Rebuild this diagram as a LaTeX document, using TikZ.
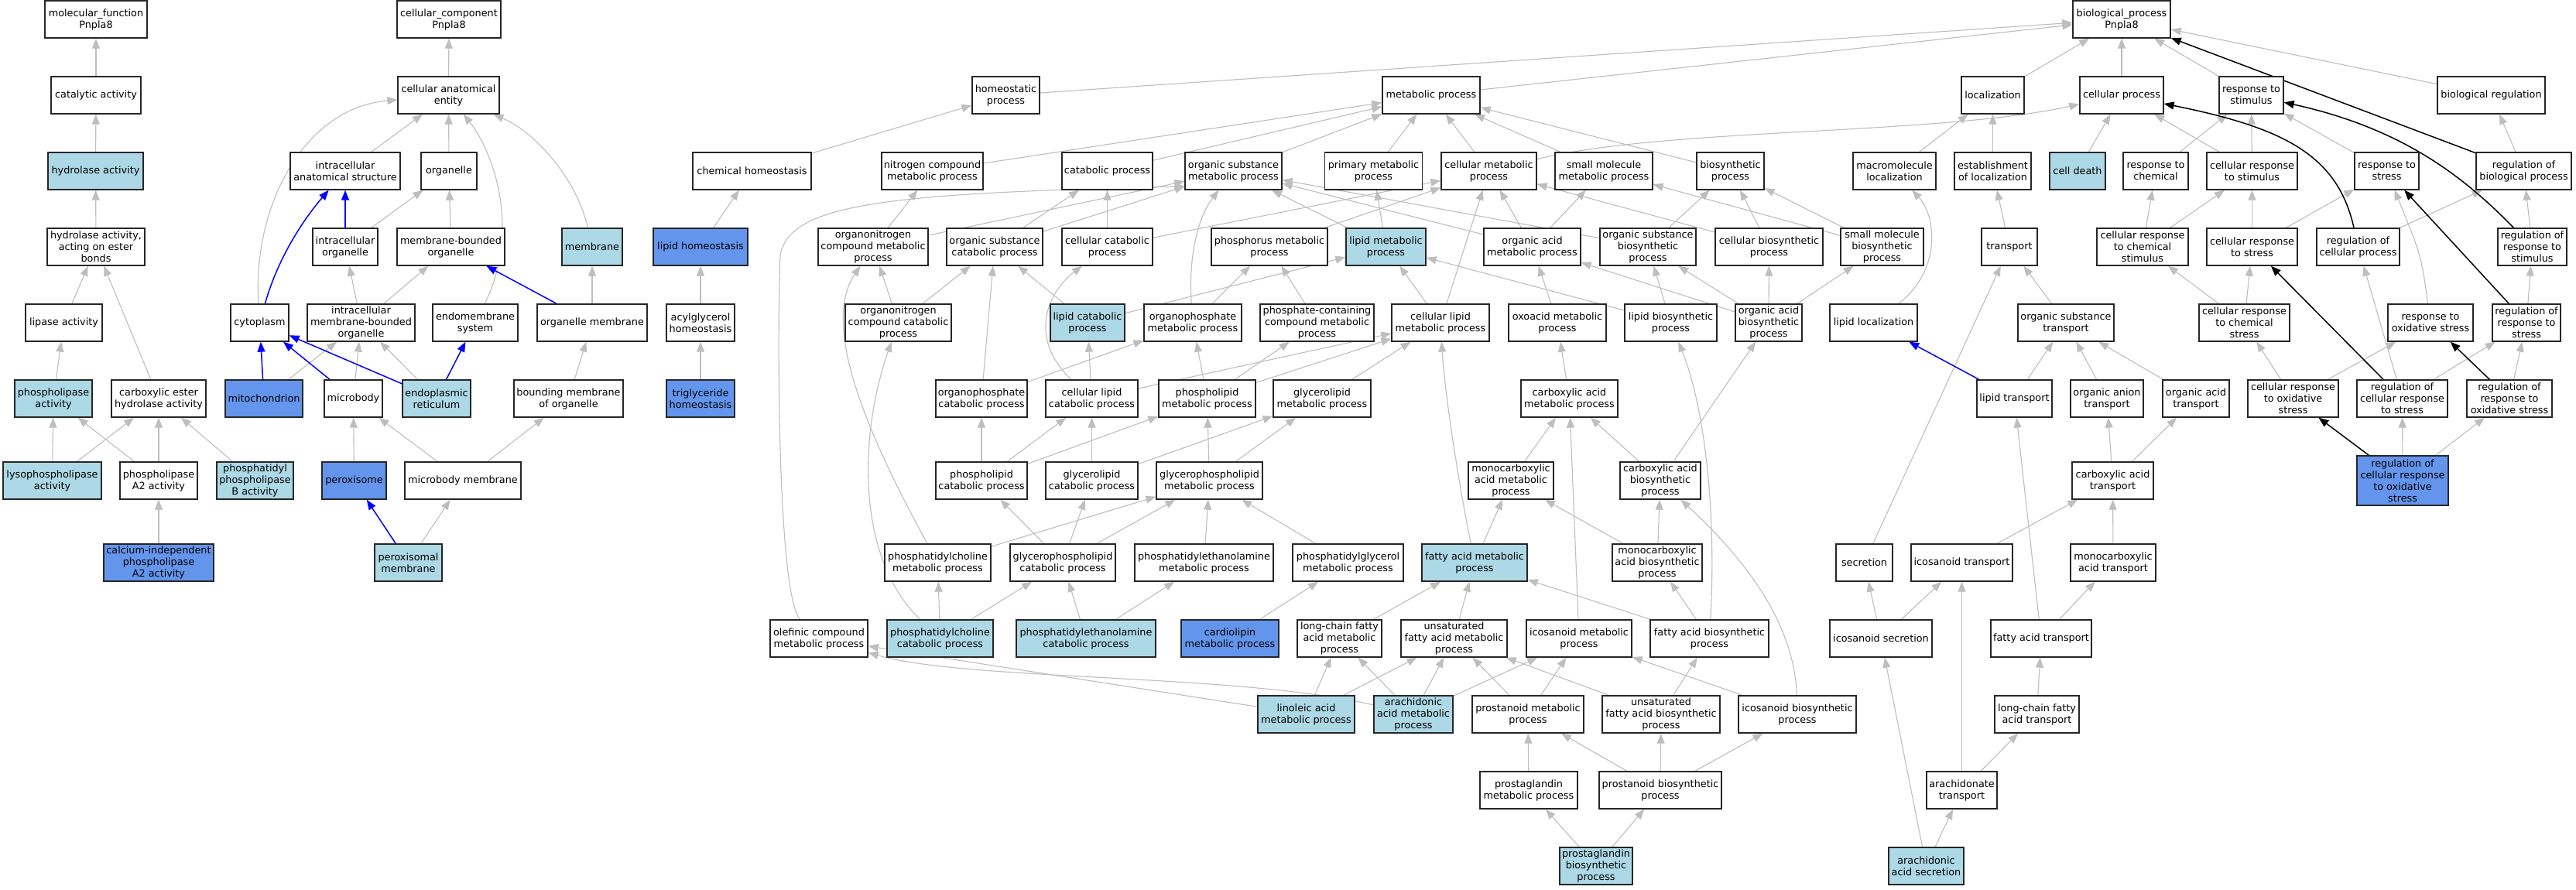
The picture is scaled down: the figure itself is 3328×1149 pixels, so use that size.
\documentclass[tikz,border=0pt]{standalone}
\usepackage{fontspec}
\setmainfont{DejaVu Sans}
\usetikzlibrary{arrows.meta}
\definecolor{lb}{HTML}{ADD8E6}
\definecolor{cb}{HTML}{6495ED}
\definecolor{edgegray}{HTML}{BEBEBE}
\pgfdeclarelayer{back}
\pgfdeclarelayer{edges}
\pgfsetlayers{back,edges,main}
\newcommand\GN[6]{\node[box,fill=#5,minimum width=#4pt] (#1) at (#2,#3) {#6};}
\begin{document}
\begin{tikzpicture}[x=1pt,y=-1pt,
  box/.style={draw=black!85,line width=1.3pt,minimum height=48pt,inner sep=2pt,align=center,
    font=\fontsize{12.8pt}{15pt}\selectfont},
  ge/.style={draw=edgegray,line width=1.1pt,-{Triangle[length=13pt,width=10pt]}},
  eb/.style={draw=blue,line width=1.5pt,-{Triangle[length=13pt,width=10pt]}},
  ek/.style={draw=black,line width=1.5pt,-{Triangle[length=13pt,width=10pt]}}]
\begin{pgfonlayer}{back}
\fill[white] (0,0) rectangle (3328,1149);
\end{pgfonlayer}
\useasboundingbox (0,0) rectangle (3328,1149);
% ---------- molecular function ----------
\GN{mf}{124}{25}{132}{white}{molecular\_function\\Pnpla8}
\GN{cat}{124}{123}{116}{white}{catalytic activity}
\GN{hyd}{123.5}{221}{123}{lb}{hydrolase activity}
\GN{hydest}{124}{319}{126}{white}{hydrolase activity,\\acting on ester\\bonds}
\GN{lipase}{82.5}{417}{99}{white}{lipase activity}
\GN{phlase}{69}{515}{100}{lb}{phospholipase\\activity}
\GN{cest}{205}{515}{122}{white}{carboxylic ester\\hydrolase activity}
\GN{lyso}{67.5}{621}{127}{lb}{lysophospholipase\\activity}
\GN{pla2}{205}{621}{100}{white}{phospholipase\\A2 activity}
\GN{plb}{329.5}{621}{99}{lb}{phosphatidyl\\phospholipase\\B activity}
\GN{capla2}{205}{727}{142}{cb}{calcium-independent\\phospholipase\\A2 activity}
% ---------- cellular component ----------
\GN{cc}{580}{25}{134}{white}{cellular\_component\\Pnpla8}
\GN{cae}{579.5}{123}{131}{white}{cellular anatomical\\entity}
\GN{ias}{446}{221}{142}{white}{intracellular\\anatomical structure}
\GN{org}{580}{221}{72}{white}{organelle}
\GN{io}{446}{319}{84}{white}{intracellular\\organelle}
\GN{mbo}{582.5}{319}{139}{white}{membrane-bounded\\organelle}
\GN{mem}{765}{319}{78}{lb}{membrane}
\GN{cyto}{335.5}{417}{75}{white}{cytoplasm}
\GN{imbo}{466.5}{417}{139}{white}{intracellular\\membrane-bounded\\organelle}
\GN{endo}{614}{417}{110}{white}{endomembrane\\system}
\GN{orgmem}{765}{417}{142}{white}{organelle membrane}
\GN{mito}{341}{515}{100}{cb}{mitochondrion}
\GN{microbody}{456.5}{515}{75}{white}{microbody}
\GN{er}{564}{515}{88}{lb}{endoplasmic\\reticulum}
\GN{bmo}{734.5}{515}{141}{white}{bounding membrane\\of organelle}
\GN{perox}{457.5}{621}{83}{cb}{peroxisome}
\GN{mbmem}{598}{621}{150}{white}{microbody membrane}
\GN{pxmem}{527.5}{727}{87}{lb}{peroxisomal\\membrane}
% ---------- biological process ----------
\GN{bp}{2741}{25}{126}{white}{biological\_process\\Pnpla8}
\GN{homeo}{1299.5}{123}{87}{white}{homeostatic\\process}
\GN{metab}{1849}{123}{126}{white}{metabolic process}
\GN{loc}{2574.5}{123}{81}{white}{localization}
\GN{cellproc}{2741}{123}{108}{white}{cellular process}
\GN{respstim}{2908.5}{123}{83}{white}{response to\\stimulus}
\GN{bioreg}{3218.5}{123}{139}{white}{biological regulation}
% r2
\GN{chemhomeo}{971.5}{221}{153}{white}{chemical homeostasis}
\GN{ncmp}{1204.5}{221}{131}{white}{nitrogen compound\\metabolic process}
\GN{catab}{1430.5}{221}{117}{white}{catabolic process}
\GN{osmp}{1593.5}{221}{125}{white}{organic substance\\metabolic process}
\GN{primp}{1774.5}{221}{126}{white}{primary metabolic\\process}
\GN{cellmp}{1923.5}{221}{123}{white}{cellular metabolic\\process}
\GN{smmp}{2072}{221}{126}{white}{small molecule\\metabolic process}
\GN{biosyn}{2235.5}{221}{87}{white}{biosynthetic\\process}
\GN{macroloc}{2447.5}{221}{107}{white}{macromolecule\\localization}
\GN{estloc}{2574.5}{221}{99}{white}{establishment\\of localization}
\GN{celldeath}{2684}{221}{72}{lb}{cell death}
\GN{respchem}{2785}{221}{84}{white}{response to\\chemical}
\GN{crstim}{2909.5}{221}{117}{white}{cellular response\\to stimulus}
\GN{respstress}{3083.5}{221}{83}{white}{response to\\stress}
\GN{regbp}{3260.5}{221}{123}{white}{regulation of\\biological process}
% r3
\GN{lipidhomeo}{905}{319}{122}{cb}{lipid homeostasis}
\GN{oncmp}{1128}{319}{142}{white}{organonitrogen\\compound metabolic\\process}
\GN{oscp}{1285}{319}{124}{white}{organic substance\\catabolic process}
\GN{cellcat}{1430.5}{319}{117}{white}{cellular catabolic\\process}
\GN{phosmp}{1640}{319}{150}{white}{phosphorus metabolic\\process}
\GN{lipidmp}{1790.5}{319}{103}{lb}{lipid metabolic\\process}
\GN{oamp}{1979.5}{319}{125}{white}{organic acid\\metabolic process}
\GN{osbp}{2129}{319}{124}{white}{organic substance\\biosynthetic\\process}
\GN{cbp}{2285.5}{319}{139}{white}{cellular biosynthetic\\process}
\GN{smbp}{2431.5}{319}{107}{white}{small molecule\\biosynthetic\\process}
\GN{transport}{2596}{319}{72}{white}{transport}
\GN{crchem}{2768}{319}{118}{white}{cellular response\\to chemical\\stimulus}
\GN{crstress}{2909.5}{319}{117}{white}{cellular response\\to stress}
\GN{regcp}{3046.5}{319}{107}{white}{regulation of\\cellular process}
\GN{regrstim}{3271.5}{319}{89}{white}{regulation of\\response to\\stimulus}
% r4
\GN{acylhomeo}{905}{417}{88}{white}{acylglycerol\\homeostasis}
\GN{onccp}{1160.5}{417}{137}{white}{organonitrogen\\compound catabolic\\process}
\GN{lipidcat}{1405}{417}{96}{lb}{lipid catabolic\\process}
\GN{opmp}{1541}{417}{126}{white}{organophosphate\\metabolic process}
\GN{pccmp}{1701.5}{417}{147}{white}{phosphate-containing\\compound metabolic\\process}
\GN{clmp}{1861}{417}{126}{white}{cellular lipid\\metabolic process}
\GN{oxoamp}{2012}{417}{126}{white}{oxoacid metabolic\\process}
\GN{lipidbp}{2158.5}{417}{119}{white}{lipid biosynthetic\\process}
\GN{oabp}{2285}{417}{86}{white}{organic acid\\biosynthetic\\process}
\GN{lipidloc}{2420.5}{417}{113}{white}{lipid localization}
\GN{ostrans}{2669}{417}{124}{white}{organic substance\\transport}
\GN{crchemstress}{2899.5}{417}{117}{white}{cellular response\\to chemical\\stress}
\GN{roxstress}{3140}{417}{110}{white}{response to\\oxidative stress}
\GN{regrstress}{3264}{417}{88}{white}{regulation of\\response to\\stress}
% r5
\GN{trighomeo}{905}{515}{88}{cb}{triglyceride\\homeostasis}
\GN{opcp}{1268}{515}{118}{white}{organophosphate\\catabolic process}
\GN{clcp}{1410.5}{515}{119}{white}{cellular lipid\\catabolic process}
\GN{plmp}{1559.5}{515}{125}{white}{phospholipid\\metabolic process}
\GN{glmp}{1708}{515}{126}{white}{glycerolipid\\metabolic process}
\GN{camp}{2027.5}{515}{125}{white}{carboxylic acid\\metabolic process}
\GN{liptrans}{2602.5}{515}{97}{white}{lipid transport}
\GN{oantrans}{2722}{515}{94}{white}{organic anion\\transport}
\GN{oactrans}{2837}{515}{86}{white}{organic acid\\transport}
\GN{croxstress}{2962.5}{515}{117}{white}{cellular response\\to oxidative\\stress}
\GN{regcrstress}{3103.5}{515}{117}{white}{regulation of\\cellular response\\to stress}
\GN{regroxstress}{3242}{515}{110}{white}{regulation of\\response to\\oxidative stress}
% r6
\GN{plcp}{1268}{621}{118}{white}{phospholipid\\catabolic process}
\GN{glcp}{1410.5}{621}{119}{white}{glycerolipid\\catabolic process}
\GN{gplmp}{1562.5}{621}{137}{white}{glycerophospholipid\\metabolic process}
\GN{mcamp}{1952}{621}{110}{white}{monocarboxylic\\acid metabolic\\process}
\GN{cabp}{2145}{621}{104}{white}{carboxylic acid\\biosynthetic\\process}
\GN{catrans}{2729.5}{621}{105}{white}{carboxylic acid\\transport}
\node[box,fill=cb,minimum width=118pt,minimum height=64pt] (regcroxs) at (3104,621) {regulation of\\cellular response\\to oxidative\\stress};
% r7
\GN{pcmp}{1211.5}{727}{137}{white}{phosphatidylcholine\\metabolic process}
\GN{gplcp}{1373}{727}{136}{white}{glycerophospholipid\\catabolic process}
\GN{pemp}{1555.5}{727}{179}{white}{phosphatidylethanolamine\\metabolic process}
\GN{pgmp}{1741.5}{727}{143}{white}{phosphatidylglycerol\\metabolic process}
\GN{famp}{1905}{727}{136}{lb}{fatty acid metabolic\\process}
\GN{mcabp}{2141}{727}{116}{white}{monocarboxylic\\acid biosynthetic\\process}
\GN{secretion}{2408.5}{727}{73}{white}{secretion}
\GN{icotrans}{2534.5}{727}{131}{white}{icosanoid transport}
\GN{mcatrans}{2730}{727}{110}{white}{monocarboxylic\\acid transport}
% r8
\GN{olefinic}{1058}{825}{126}{white}{olefinic compound\\metabolic process}
\GN{pccp}{1214.5}{825}{137}{lb}{phosphatidylcholine\\catabolic process}
\GN{pecp}{1403}{825}{180}{lb}{phosphatidylethanolamine\\catabolic process}
\GN{cardio}{1589}{825}{126}{cb}{cardiolipin\\metabolic process}
\GN{lcfamp}{1730.5}{825}{109}{white}{long-chain fatty\\acid metabolic\\process}
\GN{ufamp}{1878.5}{825}{137}{white}{unsaturated\\fatty acid metabolic\\process}
\GN{icomp}{2040}{825}{136}{white}{icosanoid metabolic\\process}
\GN{fabp}{2208.5}{825}{153}{white}{fatty acid biosynthetic\\process}
\GN{icosec}{2430}{825}{132}{white}{icosanoid secretion}
\GN{fatrans}{2637}{825}{130}{white}{fatty acid transport}
% r9
\GN{linoleic}{1687.5}{923}{125}{lb}{linoleic acid\\metabolic process}
\GN{arachmp}{1826}{923}{102}{lb}{arachidonic\\acid metabolic\\process}
\GN{prostmp}{1974}{923}{144}{white}{prostanoid metabolic\\process}
\GN{ufabp}{2146}{923}{152}{white}{unsaturated\\fatty acid biosynthetic\\process}
\GN{icobp}{2322}{923}{152}{white}{icosanoid biosynthetic\\process}
\GN{lcfatrans}{2631.5}{923}{109}{white}{long-chain fatty\\acid transport}
% r10
\GN{pgmp2}{1975}{1021}{126}{white}{prostaglandin\\metabolic process}
\GN{prostbp}{2145}{1021}{158}{white}{prostanoid biosynthetic\\process}
\GN{arachtrans}{2534.5}{1021}{91}{white}{arachidonate\\transport}
% r11
\GN{pgbp}{2062}{1119}{94}{lb}{prostaglandin\\biosynthetic\\process}
\GN{arachsec}{2488.5}{1119}{97}{lb}{arachidonic\\acid secretion}
% ================= edges =================
\begin{pgfonlayer}{edges}
\foreach \a/\b in {cat/mf, hyd/cat, hydest/hyd, lipase/hydest, cest/hydest, phlase/lipase,
  lyso/phlase, lyso/cest, pla2/phlase, pla2/cest, plb/cest, capla2/pla2,
  cae/cc, ias/cae, org/cae, io/org, mbo/org, imbo/io, imbo/mbo, orgmem/mem, mito/imbo,
  microbody/imbo, er/imbo, bmo/orgmem, perox/microbody, mbmem/microbody, mbmem/bmo, pxmem/mbmem,
  homeo/bp, metab/bp, loc/bp, cellproc/bp, respstim/bp, bioreg/bp,
  chemhomeo/homeo, ncmp/metab, catab/metab, osmp/metab, primp/metab, cellmp/metab, smmp/metab,
  biosyn/metab, macroloc/loc, estloc/loc, celldeath/cellproc, respchem/respstim, crstim/cellproc,
  crstim/respstim, respstress/respstim, regbp/bioreg,
  lipidhomeo/chemhomeo, oncmp/ncmp, oncmp/osmp, oscp/catab, oscp/osmp, cellcat/catab, cellcat/cellmp,
  phosmp/cellmp, lipidmp/primp, lipidmp/osmp, oamp/osmp, oamp/cellmp, oamp/smmp, osbp/osmp,
  osbp/biosyn, cbp/cellmp, cbp/biosyn, smbp/smmp, smbp/biosyn, transport/estloc, crchem/respchem,
  crchem/crstim, crstress/crstim, crstress/respstress, regcp/regbp, regrstim/regbp,
  acylhomeo/lipidhomeo, onccp/oncmp, onccp/oscp, lipidcat/oscp, lipidcat/lipidmp, opmp/phosmp,
  pccmp/phosmp, clmp/lipidmp, clmp/cellmp, oxoamp/oamp, lipidbp/lipidmp, lipidbp/osbp, oabp/oamp,
  oabp/osbp, oabp/cbp, oabp/smbp, ostrans/transport, crchemstress/crchem, crchemstress/crstress,
  regrstress/regrstim,
  trighomeo/acylhomeo, opcp/oscp, opcp/opmp, clcp/lipidcat, clcp/clmp, plmp/opmp, plmp/pccmp,
  plmp/clmp, glmp/clmp, camp/oxoamp, liptrans/ostrans, oantrans/ostrans, oactrans/ostrans,
  croxstress/crchemstress, croxstress/roxstress, regcrstress/regcp, regcrstress/regrstress,
  regroxstress/regrstress,
  plcp/opcp, plcp/clcp, plcp/plmp, glcp/clcp, glcp/glmp, gplmp/plmp, gplmp/glmp, mcamp/camp,
  cabp/camp, cabp/oabp, catrans/oantrans, catrans/oactrans, regcroxs/regcrstress, regcroxs/regroxstress,
  pcmp/gplmp, gplcp/plcp, gplcp/glcp, gplcp/gplmp, pemp/gplmp, pgmp/gplmp, famp/mcamp, mcabp/mcamp,
  mcabp/cabp, secretion/transport, icotrans/catrans, mcatrans/catrans,
  pccp/pcmp, pccp/gplcp, pecp/gplcp, pecp/pemp, cardio/pgmp, lcfamp/famp, ufamp/famp, icomp/camp,
  fabp/famp, fabp/mcabp, icosec/secretion, icosec/icotrans, fatrans/mcatrans, fatrans/liptrans,
  linoleic/olefinic, linoleic/lcfamp, linoleic/ufamp, arachmp/lcfamp, arachmp/ufamp, arachmp/icomp,
  prostmp/ufamp, prostmp/icomp, ufabp/ufamp, ufabp/fabp, icobp/icomp, lcfatrans/fatrans,
  pgmp2/prostmp, prostbp/prostmp, prostbp/ufabp, prostbp/icobp, arachtrans/lcfatrans,
  arachtrans/icotrans, pgbp/pgmp2, pgbp/prostbp, arachsec/icosec, arachsec/arachtrans}
  \draw[ge] (\a) -- (\b);
% curved gray edges
\draw[ge] (cyto) .. controls (326,270) and (390,140) .. (cae);
\draw[ge] (endo) .. controls (672,300) and (640,200) .. (cae);
\draw[ge] (mem) .. controls (745,230) and (690,170) .. (cae);
\draw[ge] (olefinic) .. controls (1004,770) and (1004,420) .. (1008,330)
   .. controls (1020,262) and (1150,250) .. ([yshift=5pt]osmp.south west);
\draw[ge] (pcmp) .. controls (1120,560) and (1060,420) .. (oncmp);
\draw[ge] (pccp) .. controls (1105,720) and (1110,560) .. (onccp);
\draw[ge] (clcp) .. controls (1330,440) and (1350,380) .. (cellcat);
\draw[ge] (opmp) .. controls (1535,330) and (1548,280) .. (osmp);
\draw[ge] (fabp) .. controls (2218,650) and (2200,520) .. (lipidbp);
\draw[ge] (icobp) .. controls (2318,790) and (2230,700) .. (cabp);
\draw[ge] (famp) .. controls (1880,600) and (1866,500) .. (clmp);
\draw[ge] (cellmp) .. controls (2150,165) and (2500,175) .. (cellproc);
\draw[ge] (lipidloc) .. controls (2508,350) and (2502,280) .. (macroloc);
\draw[ge] (roxstress) .. controls (3128,330) .. (respstress);
\draw[ge] (arachmp) .. controls (1600,870) and (1250,880) .. (olefinic);
% blue (part of)
\foreach \a/\b in {io/ias, orgmem/mbo, mito/cyto, microbody/cyto, er/cyto, er/endo, pxmem/perox, liptrans/lipidloc}
  \draw[eb] (\a) -- (\b);
\draw[eb] (cyto) .. controls (360,330) and (395,280) .. (ias);
% black (regulates)
\foreach \a/\b in {regbp/bp, regrstress/respstress, regcrstress/crstress, regroxstress/roxstress, regcroxs/croxstress}
  \draw[ek] (\a) -- (\b);
\draw[ek] (regcp) .. controls (3020,200) and (2950,165) .. (cellproc);
\draw[ek] (regrstim) .. controls (3180,225) and (3100,165) .. (respstim);
\end{pgfonlayer}
\end{tikzpicture}
\end{document}
